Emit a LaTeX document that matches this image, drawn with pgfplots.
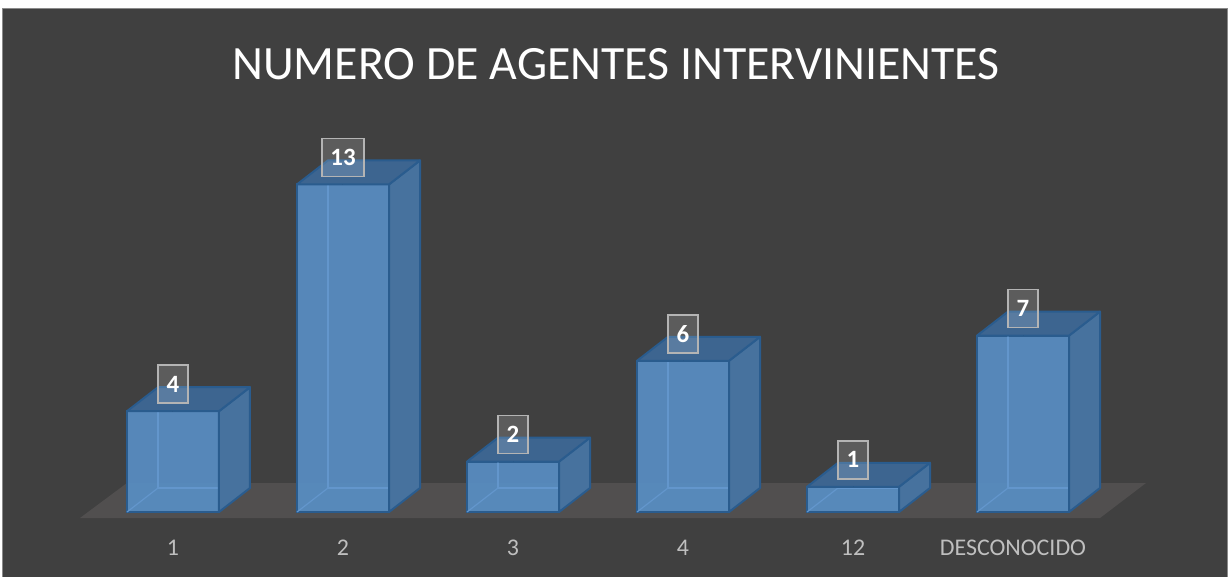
\documentclass[border=0pt]{standalone}
\usepackage{pgfplots}
\pgfplotsset{compat=1.18}
\usepackage{pgfplotstable}
\usepackage{fontspec}
\setmainfont{Carlito}
\definecolor{bgdark}{HTML}{404040}
\definecolor{bordergray}{HTML}{8A8A8A}
\definecolor{floorcol}{HTML}{514F4F}
\definecolor{frontblue}{HTML}{588EC4}
\definecolor{sideblue}{HTML}{47729E}
\definecolor{topblue}{HTML}{3D6590}
\definecolor{edgeblue}{HTML}{2A5C8E}
\definecolor{hiddenblue}{HTML}{6396CC}
\definecolor{tickgray}{HTML}{BFBFBF}
\definecolor{labelborder}{HTML}{B4B4B4}
\pgfplotstableread{
x v
0 4
1 13
2 2
3 6
4 1
5 7
}\datatable
\begin{document}
\begin{tikzpicture}
\begin{axis}[
  set layers=standard,
  x=85bp, y=12.6bp,
  xmin=-1.0176, xmax=6.2176, ymin=-2.5794, ymax=20.3175,
  axis line style={draw=none}, tick style={draw=none},
  /pgf/number format/assume math mode=true,
  ytick=\empty, xtick={0,1,2,3,4,5},
  xticklabels={1,2,3,4,12,DESCONOCIDO\hspace*{10bp}},
  typeset ticklabels with strut,
  xticklabel style={anchor=center, yshift=13.5bp, text=tickgray, font=\fontsize{12}{14}\selectfont},
  title={NUMERO DE AGENTES INTERVINIENTES},
  title style={at={(0.5008,0.868)}, anchor=center, text=white, font=\fontsize{24}{28}\selectfont},
  clip=false,
]
% frame
\begin{pgfonlayer}{axis background}
\fill[white] (axis cs:-1.0176,-2.5794) rectangle (axis cs:6.2176,20.3175);
\fill[bordergray] (axis cs:-1.00588,-2.5794) rectangle (axis cs:6.20588,20.0);
\fill[bgdark] (axis cs:-1.0,-2.5794) rectangle (axis cs:6.2,19.96);
\end{pgfonlayer}
% floor
\addplot[fill=floorcol, draw=none] coordinates {(-0.5471,-0.2381) (-0.2706,1.1508) (5.7235,1.1508) (5.4529,-0.2381)} -- cycle;
% hidden edges
\addplot[scatter, only marks, mark=*, mark size=0pt, mark options={draw=none,fill=none},
  visualization depends on={rawy \as \val},
  scatter/@pre marker code/.code={%
    \pgfmathsetmacro\hb{12-\val*12.6}%
    \pgfmathsetmacro\hh{-\val*12.6}%
    \draw[hiddenblue, line width=0.6bp] (-7.5bp,12bp) -- (-7.5bp,\hb bp) -- (38.5bp,\hb bp);
    \draw[hiddenblue, line width=0.6bp] (-7.5bp,\hb bp) -- (-23bp,\hh bp);
  },
  scatter/@post marker code/.code={}
] table[x=x,y=v] {\datatable};
% front faces
\addplot[ybar, bar width=46bp, bar shift=0pt, fill=frontblue, fill opacity=0.92, draw=edgeblue, line width=1bp] table[x=x,y=v] {\datatable};
% side and top faces
\addplot[scatter, only marks, mark=*, mark size=0pt, mark options={draw=none,fill=none},
  visualization depends on={rawy \as \val},
  scatter/@pre marker code/.code={%
    \pgfmathsetmacro\hb{12-\val*12.6}%
    \pgfmathsetmacro\hh{-\val*12.6}%
    \filldraw[fill=sideblue, draw=edgeblue, line width=1bp, line join=round] (23bp,\hh bp) -- (23bp,0bp) -- (38.5bp,12bp) -- (38.5bp,\hb bp) -- cycle;
    \filldraw[fill=topblue, draw=edgeblue, line width=1bp, line join=round] (-23bp,0bp) -- (23bp,0bp) -- (38.5bp,12bp) -- (-7.5bp,12bp) -- cycle;
  },
  scatter/@post marker code/.code={}
] table[x=x,y=v] {\datatable};
% labels
\addplot[only marks, mark=*, mark size=0pt, mark options={draw=none,fill=none},
  nodes near coords,
  every node near coord/.append style={anchor=center, yshift=13.5bp,
    font=\fontsize{12.5}{14}\selectfont\bfseries, text=white,
    fill=white, fill opacity=0.15, text opacity=1,
    draw=labelborder, draw opacity=1, line width=0.75bp,
    inner xsep=4.3bp, minimum height=19bp}
] table[x=x,y=v] {\datatable};
\end{axis}
\end{tikzpicture}
\end{document}
